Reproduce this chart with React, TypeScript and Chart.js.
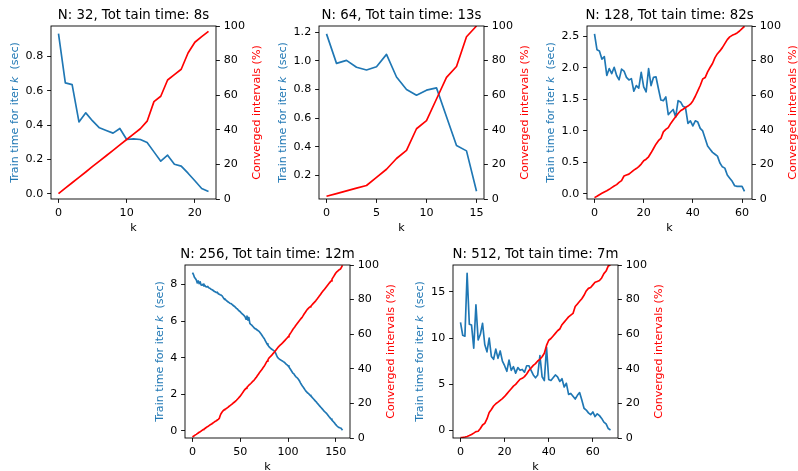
import React, { useEffect, useRef } from "react";
import { Chart, registerables } from "chart.js";
Chart.register(...registerables);

const FONT = "'DejaVu Sans', sans-serif";
const BLUE = "#1f77b4";
const RED = "#ff0000";
const FS = 11.1;
const TFS = 13.3;

// ---------- data ----------
const p1Title = "N: 32, Tot tain time: 8s";
const p1Time = [0.932, 0.645, 0.635, 0.418, 0.471, 0.424, 0.384, 0.368, 0.353, 0.38, 0.316, 0.32, 0.316, 0.298, 0.244, 0.19, 0.225, 0.172, 0.161, 0.12, 0.076, 0.031, 0.014];
const p1Conv = [3.1, 6.3, 9.4, 12.5, 15.6, 18.8, 21.9, 25.0, 28.1, 31.3, 34.4, 37.5, 40.6, 45.0, 56.3, 59.4, 68.8, 71.9, 75.0, 84.4, 90.6, 93.8, 96.9];
const p1XTicks = [0, 10, 20];
const p1YTicks = [0, 0.2, 0.4, 0.6, 0.8];

const p2Title = "N: 64, Tot tain time: 13s";
const p2Time = [1.188, 0.982, 1.003, 0.955, 0.936, 0.959, 1.045, 0.887, 0.8, 0.76, 0.795, 0.811, 0.61, 0.408, 0.371, 0.089];
const p2Conv = [1.6, 3.1, 4.7, 6.3, 7.8, 12.5, 17.2, 23.4, 28.1, 40.6, 45.3, 57.8, 70.3, 76.6, 93.8, 100];
const p2XTicks = [0, 5, 10, 15];
const p2YTicks = [0.2, 0.4, 0.6, 0.8, 1.0, 1.2];

const p3Title = "N: 128, Tot tain time: 82s";
const p3Time = [
  2.54, 2.29, 2.27, 2.14, 2.18, 1.88, 1.99, 1.91, 2.01, 1.88,
  1.81, 1.98, 1.95, 1.85, 1.81, 1.83, 1.63, 1.72, 1.68, 1.93,
  1.7, 1.62, 1.99, 1.72, 1.85, 1.86, 1.67, 1.49, 1.48, 1.54,
  1.26, 1.3, 1.34, 1.22, 1.48, 1.46, 1.39, 1.37, 1.12, 1.16,
  1.08, 1.16, 1.14, 1.04, 1.0, 0.88, 0.76, 0.71, 0.66, 0.63,
  0.6, 0.49, 0.43, 0.41, 0.3, 0.25, 0.2, 0.13, 0.12, 0.12,
  0.12, 0.04,
];
const p3Conv = [
  0.8, 1.6, 2.5, 3.3, 4.1, 4.8, 5.6, 6.6, 7.5, 8.3,
  9.6, 10.6, 13.3, 13.9, 14.4, 15.5, 16.7, 17.6, 18.7, 20.2,
  22.1, 23.0, 24.4, 26.7, 29.2, 31.7, 33.7, 35.0, 38.8, 40.2,
  41.3, 43.7, 45.6, 47.5, 49.4, 51.0, 51.9, 52.9, 53.7, 54.8,
  56.7, 59.4, 62.5, 65.6, 69.4, 70.2, 73.5, 76.0, 78.3, 81.7,
  84.0, 85.6, 87.5, 89.8, 92.1, 93.7, 94.6, 95.2, 96.0, 97.1,
  98.5, 99.8,
];
const p3XTicks = [0, 20, 40, 60];
const p3YTicks = [0, 0.5, 1.0, 1.5, 2.0, 2.5];

const p4Title = "N: 256, Tot tain time: 12m";
const p4Time = [
  8.65, 8.55, 8.4, 8.33, 8.25, 8.09, 8.2, 8.05, 8.15, 7.98,
  7.96, 8.02, 7.92, 7.95, 7.88, 7.87, 7.9, 7.82, 7.8, 7.76,
  7.73, 7.7, 7.66, 7.62, 7.6, 7.56, 7.58, 7.5, 7.47, 7.44,
  7.42, 7.38, 7.3, 7.22, 7.18, 7.15, 7.1, 7.06, 7.02, 6.98,
  6.96, 6.93, 6.88, 6.84, 6.8, 6.75, 6.7, 6.66, 6.6, 6.55,
  6.51, 6.45, 6.4, 6.35, 6.3, 6.24, 6.1, 6.28, 6.05, 6.2,
  5.87, 5.82, 5.78, 5.72, 5.66, 5.6, 5.58, 5.54, 5.5, 5.46,
  5.42, 5.35, 5.28, 5.2, 5.12, 5.05, 4.95, 4.85, 4.75, 4.68,
  4.6, 4.55, 4.5, 4.46, 4.42, 4.38, 4.36, 4.25, 4.12, 4.02,
  3.96, 3.92, 3.88, 3.85, 3.82, 3.78, 3.75, 3.7, 3.64, 3.6,
  3.55, 3.48, 3.4, 3.32, 3.24, 3.15, 3.12, 3.03, 2.96, 2.92,
  2.87, 2.8, 2.72, 2.62, 2.53, 2.45, 2.38, 2.3, 2.22, 2.15,
  2.09, 2.05, 2.0, 1.94, 1.89, 1.84, 1.78, 1.72, 1.66, 1.6,
  1.55, 1.48, 1.42, 1.36, 1.3, 1.24, 1.18, 1.12, 1.06, 1.01,
  0.96, 0.9, 0.83, 0.76, 0.7, 0.64, 0.58, 0.52, 0.46, 0.4,
  0.33, 0.27, 0.22, 0.18, 0.16, 0.15, 0.1, 0.02,
];
const p4Conv = [
  0.6, 1.0, 1.4, 1.8, 2.1, 2.5, 2.9, 3.3, 3.6, 4.0,
  4.4, 4.8, 5.1, 5.5, 5.9, 6.3, 6.6, 7.0, 7.4, 7.8,
  8.1, 8.5, 8.9, 9.3, 9.7, 10.0, 10.4, 10.8, 11.3, 13.0,
  14.2, 15.0, 15.7, 16.3, 16.6, 16.9, 17.3, 17.7, 18.2, 18.6,
  19.0, 19.4, 19.9, 20.4, 20.8, 21.3, 21.8, 22.4, 23.0, 23.6,
  24.2, 25.0, 25.8, 26.6, 27.4, 28.1, 28.7, 29.3, 29.9, 30.5,
  31.0, 31.5, 32.1, 32.7, 33.2, 33.8, 34.6, 35.3, 36.1, 36.9,
  37.7, 38.4, 39.1, 39.9, 40.7, 41.5, 42.4, 43.4, 44.4, 45.3,
  46.2, 46.8, 47.3, 47.9, 48.6, 49.2, 49.9, 50.6, 51.3, 52.0,
  52.7, 53.3, 53.8, 54.3, 54.8, 55.4, 56.0, 56.6, 57.2, 57.8,
  58.5, 59.3, 60.1, 60.9, 61.8, 62.7, 63.5, 64.2, 65.0, 65.7,
  66.5, 67.2, 67.9, 68.6, 69.3, 70.0, 70.9, 71.8, 72.6, 73.4,
  74.2, 74.8, 75.3, 75.8, 76.3, 76.9, 77.5, 78.1, 78.7, 79.3,
  80.0, 80.8, 81.5, 82.3, 83.0, 83.8, 84.5, 85.2, 85.9, 86.6,
  87.3, 88.0, 88.7, 89.4, 90.1, 90.8, 91.8, 92.7, 93.6, 94.5,
  95.4, 96.0, 96.5, 97.0, 97.4, 97.7, 98.8, 99.8,
];
const p4XTicks = [0, 50, 100, 150];
const p4YTicks = [0, 2, 4, 6, 8];

const p5Title = "N: 512, Tot tain time: 7m";
const p5Time = [
  11.7, 10.3, 10.2, 17.0, 11.5, 11.4, 8.9, 13.6, 9.8, 10.4,
  11.6, 9.3, 8.5, 10.0, 8.0, 7.7, 8.8, 7.8, 8.6, 7.5,
  7.0, 6.4, 7.6, 6.5, 6.9, 6.2, 6.8, 6.5, 6.6, 6.3,
  7.0, 7.0, 6.5, 6.0, 5.7, 6.0, 8.1, 5.8, 5.4, 9.0,
  5.5, 5.4, 5.7, 6.0, 5.8, 5.3, 5.6, 4.7, 5.1, 3.9,
  4.0, 3.7, 3.4, 3.8, 4.1, 3.3, 2.4, 2.2, 1.9, 1.7,
  2.0, 1.5, 1.8, 1.6, 1.3, 0.9, 0.7, 0.2, 0.05,
];
const p5Conv = [
  0.3, 0.4, 0.6, 0.9, 1.4, 2.0, 2.8, 3.7, 3.9, 5.5,
  7.5, 8.5, 11.0, 14.8, 16.5, 18.5, 19.8, 20.7, 21.8, 22.8,
  24.0, 25.5, 27.0, 28.5, 30.0, 31.0, 32.5, 34.0, 34.5, 35.5,
  37.0, 39.0, 40.5, 42.0, 43.0, 44.5, 45.5, 47.0, 49.0, 53.5,
  56.5, 57.5, 59.0, 60.5, 62.0, 63.0, 65.5, 67.0, 68.5, 70.0,
  71.0, 72.0, 76.0, 77.5, 79.0, 80.5, 82.5, 85.0, 86.5, 87.0,
  88.5, 90.0, 90.5, 91.0, 92.5, 95.0, 96.5, 99.5, 100,
];
const p5XTicks = [0, 20, 40, 60];
const p5YTicks = [0, 5, 10, 15];

const convTicks = [0, 20, 40, 60, 80, 100];
const leftLabel = ["Train time for iter ", "k", "  (sec)"];
const rightLabel = "Converged intervals (%)";
const xLabel = "k";

// ---------- layout ----------
const L = 50, R = 56, T = 26, B = 40, PW = 165, PH = 173;
const TICK = 3.9, PAD = 3.9, LW = 0.9;

type Panel = {
  title: string; time: number[]; conv: number[];
  xTicks: number[]; yTicks: number[]; yDec: number;
  xMin: number; xMax: number; yMin: number; yMax: number;
  left: number; top: number;
};

const panels: Panel[] = [
  { title: p1Title, time: p1Time, conv: p1Conv, xTicks: p1XTicks, yTicks: p1YTicks, yDec: 1, xMin: -1.1, xMax: 23.1, yMin: -0.03, yMax: 0.976, left: 51, top: 26 },
  { title: p2Title, time: p2Time, conv: p2Conv, xTicks: p2XTicks, yTicks: p2YTicks, yDec: 1, xMin: -0.75, xMax: 15.75, yMin: 0.035, yMax: 1.243, left: 319, top: 26 },
  { title: p3Title, time: p3Time, conv: p3Conv, xTicks: p3XTicks, yTicks: p3YTicks, yDec: 1, xMin: -3.05, xMax: 64.05, yMin: -0.08, yMax: 2.665, left: 587, top: 26 },
  { title: p4Title, time: p4Time, conv: p4Conv, xTicks: p4XTicks, yTicks: p4YTicks, yDec: 0, xMin: -7.85, xMax: 164.85, yMin: -0.4, yMax: 9.07, left: 185, top: 265 },
  { title: p5Title, time: p5Time, conv: p5Conv, xTicks: p5XTicks, yTicks: p5YTicks, yDec: 0, xMin: -3.4, xMax: 71.4, yMin: -0.82, yMax: 17.9, left: 453, top: 265 },
];

function axisCommon(ticks: number[], dec: number) {
  return {
    afterBuildTicks: (s: any) => { s.ticks = ticks.map((v) => ({ value: v })); },
    ticks: {
      autoSkip: false, maxRotation: 0, minRotation: 0, padding: PAD,
      color: "#000", font: { family: FONT, size: FS },
      callback: (v: any) => Number(v).toFixed(dec),
    },
    grid: { display: true, drawOnChartArea: false, drawTicks: true, tickLength: TICK, tickColor: "#000", tickWidth: LW },
    border: { display: false },
  };
}

function PanelChart({ p }: { p: Panel }) {
  const ref = useRef<HTMLCanvasElement>(null);
  useEffect(() => {
    const canvas = ref.current!;
    const deco = {
      id: "deco",
      afterDraw(chart: any) {
        const { ctx, chartArea: a } = chart;
        ctx.save();
        ctx.strokeStyle = "#000";
        ctx.lineWidth = LW;
        ctx.strokeRect(a.left, a.top, a.right - a.left, a.bottom - a.top);
        const cx = (a.left + a.right) / 2;
        const cy = (a.top + a.bottom) / 2;
        ctx.fillStyle = "#000";
        ctx.textAlign = "center";
        ctx.textBaseline = "alphabetic";
        ctx.font = `${TFS}px ${FONT}`;
        ctx.fillText(p.title, cx, a.top - 6.7);
        ctx.font = `${FS}px ${FONT}`;
        ctx.fillText(xLabel, cx, a.bottom + 32);
        // left label
        let w = 0;
        for (const v of p.yTicks) w = Math.max(w, ctx.measureText(v.toFixed(p.yDec)).width);
        const lx = a.left - TICK - PAD - w - 7.6;
        const fonts = [`${FS}px ${FONT}`, `oblique ${FS}px ${FONT}`, `${FS}px ${FONT}`];
        const widths = leftLabel.map((t, i) => { ctx.font = fonts[i]; return ctx.measureText(t).width; });
        const total = widths.reduce((s, x) => s + x, 0);
        ctx.save();
        ctx.translate(lx, cy);
        ctx.rotate(-Math.PI / 2);
        ctx.textAlign = "left";
        ctx.fillStyle = BLUE;
        let x0 = -total / 2;
        leftLabel.forEach((t, i) => { ctx.font = fonts[i]; ctx.fillText(t, x0, 0); x0 += widths[i]; });
        ctx.restore();
        // right label
        ctx.save();
        ctx.translate(a.right + 43.5, cy);
        ctx.rotate(-Math.PI / 2);
        ctx.textAlign = "center";
        ctx.fillStyle = RED;
        ctx.font = `${FS}px ${FONT}`;
        ctx.fillText(rightLabel, 0, 0);
        ctx.restore();
        ctx.restore();
      },
    };
    const chart = new Chart(canvas, {
      type: "line",
      data: {
        datasets: [
          { data: p.conv.map((v, i) => ({ x: i, y: v })), yAxisID: "y1", borderColor: RED, borderWidth: 1.67, pointRadius: 0, tension: 0, order: 0, borderJoinStyle: "round" },
          { data: p.time.map((v, i) => ({ x: i, y: v })), yAxisID: "y", borderColor: BLUE, borderWidth: 1.67, pointRadius: 0, tension: 0, order: 1, borderJoinStyle: "round" },
        ],
      } as any,
      options: {
        responsive: false,
        animation: false,
        events: [],
        layout: { padding: { top: T, left: 0, right: 0, bottom: 0 } },
        plugins: { legend: { display: false }, tooltip: { enabled: false }, title: { display: false } },
        scales: {
          x: { type: "linear", position: "bottom", min: p.xMin, max: p.xMax, ...axisCommon(p.xTicks, 0), afterFit: (s: any) => { s.height = B; } },
          y: { type: "linear", position: "left", min: p.yMin, max: p.yMax, ...axisCommon(p.yTicks, p.yDec), afterFit: (s: any) => { s.width = L; } },
          y1: { type: "linear", position: "right", min: 0, max: 100, ...axisCommon(convTicks, 0), afterFit: (s: any) => { s.width = R; } },
        },
      } as any,
      plugins: [deco],
    });
    return () => chart.destroy();
  }, []);
  return (
    <canvas
      ref={ref}
      width={L + PW + R}
      height={T + PH + B}
      style={{ position: "absolute", left: p.left - L, top: p.top - T, width: L + PW + R, height: T + PH + B }}
    />
  );
}

export default function App() {
  return (
    <div style={{ position: "absolute", left: 0, top: 0, width: 798, height: 471, background: "#fff", overflow: "hidden" }}>
      {panels.map((p, i) => <PanelChart key={i} p={p} />)}
    </div>
  );
}
